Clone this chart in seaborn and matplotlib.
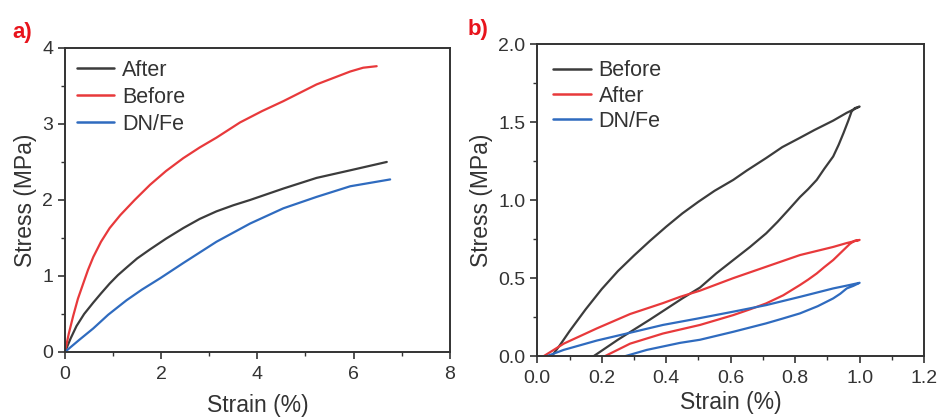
import numpy as np
import pandas as pd
import matplotlib
matplotlib.use("Agg")
import matplotlib.pyplot as plt
import seaborn as sns
from matplotlib.ticker import MultipleLocator

# ---------------- data: panel a ----------------
a_after_x = [0, 0.12, 0.24, 0.40, 0.59, 0.75, 0.93, 1.10, 1.28, 1.50, 1.77, 2.10, 2.46, 2.80,
             3.15, 3.50, 3.85, 4.54, 5.23, 5.93, 6.69]
a_after_y = [0, 0.18, 0.34, 0.50, 0.65, 0.77, 0.90, 1.01, 1.11, 1.23, 1.35, 1.49, 1.63, 1.75,
             1.85, 1.93, 2.00, 2.15, 2.29, 2.39, 2.50]
a_before_x = [0, 0.08, 0.17, 0.27, 0.38, 0.48, 0.59, 0.75, 0.93, 1.15, 1.45, 1.77, 2.10, 2.46,
              2.80, 3.15, 3.64, 4.10, 4.54, 5.23, 5.93, 6.20, 6.48]
a_before_y = [0, 0.24, 0.47, 0.70, 0.90, 1.08, 1.25, 1.45, 1.63, 1.80, 2.00, 2.20, 2.38, 2.55,
              2.69, 2.82, 3.02, 3.17, 3.30, 3.52, 3.69, 3.74, 3.76]
a_dnfe_x = [0, 0.30, 0.59, 0.90, 1.28, 1.60, 1.98, 2.46, 3.15, 3.85, 4.54, 5.23, 5.93, 6.76]
a_dnfe_y = [0, 0.16, 0.31, 0.49, 0.68, 0.82, 0.97, 1.17, 1.45, 1.69, 1.89, 2.04, 2.18, 2.27]

# ---------------- data: panel b (loading then unloading) ----------------
b_before_x = [0.045, 0.07, 0.10, 0.15, 0.20, 0.25, 0.30, 0.35, 0.40, 0.45, 0.50, 0.55,
              0.608, 0.65, 0.71, 0.76, 0.815, 0.86, 0.918, 0.96, 1.00,
              0.985, 0.975, 0.965, 0.95, 0.935, 0.918, 0.89, 0.867, 0.84, 0.815, 0.779,
              0.745, 0.71, 0.66, 0.608, 0.555, 0.505, 0.45, 0.35, 0.25, 0.175]
b_before_y = [0.0, 0.07, 0.16, 0.30, 0.43, 0.545, 0.645, 0.74, 0.83, 0.915, 0.99, 1.06,
              1.13, 1.19, 1.27, 1.34, 1.40, 1.45, 1.51, 1.56, 1.60,
              1.59, 1.568, 1.51, 1.43, 1.355, 1.28, 1.20, 1.13, 1.07, 1.02, 0.937,
              0.86, 0.787, 0.70, 0.616, 0.53, 0.44, 0.37, 0.235, 0.105, 0.0]
b_after_x = [0.02, 0.082, 0.185, 0.288, 0.39, 0.443, 0.505, 0.608, 0.71, 0.815, 0.918, 0.96, 1.00,
             0.985, 0.97, 0.945, 0.918, 0.89, 0.867, 0.84, 0.815, 0.763, 0.71, 0.66, 0.608,
             0.505, 0.39, 0.288, 0.21]
b_after_y = [0.0, 0.08, 0.178, 0.27, 0.34, 0.38, 0.42, 0.50, 0.573, 0.648, 0.70, 0.725, 0.745,
             0.74, 0.72, 0.67, 0.616, 0.57, 0.53, 0.49, 0.456, 0.39, 0.338, 0.30, 0.263,
             0.20, 0.145, 0.08, 0.0]
b_dnfe_x = [0.03, 0.082, 0.185, 0.288, 0.39, 0.495, 0.608, 0.71, 0.815, 0.918, 0.96, 1.00,
            0.98, 0.96, 0.94, 0.918, 0.87, 0.815, 0.76, 0.71, 0.608, 0.505, 0.443, 0.34, 0.273]
b_dnfe_y = [0.0, 0.04, 0.10, 0.15, 0.20, 0.24, 0.285, 0.327, 0.38, 0.434, 0.452, 0.47,
            0.45, 0.434, 0.40, 0.37, 0.32, 0.274, 0.24, 0.21, 0.156, 0.105, 0.085, 0.04, 0.0]

C_BLACK = "#3c3c3c"
C_RED = "#e8393b"
C_BLUE = "#2f6bbf"
TXT = "#333333"

sns.set_theme(style="ticks")
plt.rcParams['font.family'] = ['Liberation Sans', 'DejaVu Sans']
plt.rcParams['axes.edgecolor'] = TXT
plt.rcParams['axes.linewidth'] = 1.4
plt.rcParams['xtick.color'] = TXT
plt.rcParams['ytick.color'] = TXT
plt.rcParams['text.color'] = TXT
plt.rcParams['axes.labelcolor'] = TXT

fig = plt.figure(figsize=(9.41, 4.17), dpi=100)
axA = fig.add_axes([0.069, 0.156, 0.409, 0.729])
axB = fig.add_axes([0.571, 0.146, 0.411, 0.748])


def draw(ax, series):
    for name, xs, ys, col in series:
        df = pd.DataFrame({"x": xs, "y": ys})
        sns.lineplot(data=df, x="x", y="y", ax=ax, sort=False, estimator=None,
                     color=col, linewidth=1.6, label=name)


draw(axA, [("After", a_after_x, a_after_y, C_BLACK),
           ("Before", a_before_x, a_before_y, C_RED),
           ("DN/Fe", a_dnfe_x, a_dnfe_y, C_BLUE)])
draw(axB, [("Before", b_before_x, b_before_y, C_BLACK),
           ("After", b_after_x, b_after_y, C_RED),
           ("DN/Fe", b_dnfe_x, b_dnfe_y, C_BLUE)])

axA.set_xlim(0, 8)
axA.set_ylim(0, 4)
axA.xaxis.set_major_locator(MultipleLocator(2))
axA.xaxis.set_minor_locator(MultipleLocator(1))
axA.yaxis.set_major_locator(MultipleLocator(1))
axA.yaxis.set_minor_locator(MultipleLocator(0.5))

axB.set_xlim(0, 1.2)
axB.set_ylim(0, 2.0)
axB.xaxis.set_minor_locator(MultipleLocator(0.1))
axB.yaxis.set_minor_locator(MultipleLocator(0.25))
axB.set_xticks([0, 0.2, 0.4, 0.6, 0.8, 1.0, 1.2])
axB.set_xticklabels(["0.0", "0.2", "0.4", "0.6", "0.8", "1.0", "1.2"])
axB.set_yticks([0, 0.5, 1.0, 1.5, 2.0])
axB.set_yticklabels(["0.0", "0.5", "1.0", "1.5", "2.0"])

for ax, xlp, bap, lsp in ((axA, 8, 0.25, 0.28), (axB, 3, 0.45, 0.2)):
    for s in ax.spines.values():
        s.set_visible(True)
        s.set_color(TXT)
        s.set_linewidth(1.4)
    ax.tick_params(which="major", direction="out", length=5, width=1.2, labelsize=14)
    ax.tick_params(axis="x", which="major", pad=5)
    ax.tick_params(which="minor", direction="out", length=3, width=1.0)
    ax.set_xlabel("Strain (%)", fontsize=16.5, labelpad=xlp)
    ax.set_ylabel("Stress (MPa)", fontsize=16.5, labelpad=4)
    leg = ax.legend(loc="upper left", frameon=False, fontsize=15.5, handlelength=1.75,
                    handletextpad=0.35, labelspacing=lsp, borderaxespad=bap,
                    borderpad=0.3)
    for line in leg.get_lines():
        line.set_linewidth(1.8)

fig.text(0.013, 0.91, "a)", color="#e8141c", fontsize=16, fontweight="bold")
fig.text(0.497, 0.915, "b)", color="#e8141c", fontsize=16, fontweight="bold")

fig.savefig("out.png", dpi=100)
